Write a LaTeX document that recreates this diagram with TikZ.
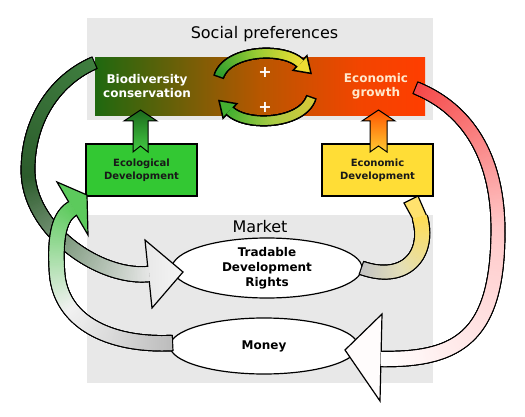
\documentclass[tikz,border=0pt]{standalone}
\usepackage{fontspec}
\setmainfont{DejaVu Sans}
\usetikzlibrary{shapes.geometric,decorations.markings}
\definecolor{panel}{HTML}{E8E8E8}
\definecolor{ecogreen}{HTML}{33C833}
\definecolor{ecoyellow}{HTML}{FFDD36}
\definecolor{growthtxt}{HTML}{FFE8CC}
\definecolor{upgT}{HTML}{1C6A1C}
\definecolor{upgB}{HTML}{44CC44}
\definecolor{upoT}{HTML}{FF5500}
\definecolor{upoB}{HTML}{FFCC33}
\definecolor{aA}{HTML}{3F7E3F}
\definecolor{aB}{HTML}{2C5C2C}
\definecolor{aC}{HTML}{E8E8E8}
\definecolor{bA}{HTML}{BDBDBD}
\definecolor{bB}{HTML}{F2F2F2}
\definecolor{bC}{HTML}{5CCA5C}
\definecolor{cA}{HTML}{C4C4C4}
\definecolor{cB}{HTML}{E4DFB8}
\definecolor{cC}{HTML}{FFDD55}
\definecolor{dA}{HTML}{F54848}
\definecolor{dB}{HTML}{FFC8C8}
\definecolor{dC}{HTML}{FFFFFF}
\definecolor{tA}{HTML}{2E9E2E}
\definecolor{tB}{HTML}{99CC33}
\definecolor{tC}{HTML}{EEDD33}
\definecolor{sA}{HTML}{D8C838}
\definecolor{sB}{HTML}{AACC44}
\definecolor{sC}{HTML}{44B030}
\pgfdeclarehorizontalshading{bioeco}{100bp}{rgb(0bp)=(0.12,0.41,0.06); rgb(25bp)=(0.12,0.41,0.06); rgb(50bp)=(0.72,0.34,0.0); rgb(65bp)=(0.95,0.27,0.0); rgb(75bp)=(1,0.24,0); rgb(100bp)=(1,0.24,0)}
\newcommand\gbo{1.2}
% black outline pass: #1 path, #2 start width, #3 end width
\newcommand\gbandout[3]{%
 \path[decorate,decoration={markings,mark=between positions 0 and 1 step 0.7pt with {%
   \pgfmathsetmacro\gbf{min(1,\pgfkeysvalueof{/pgf/decoration/mark info/distance from start}/\pgfdecoratedpathlength)}%
   \pgfmathsetmacro\gbh{(#2+(#3-#2)*\gbf)/2+\gbo}%
   \fill[black] (-\gbo pt,-\gbh pt) rectangle (1.3pt,\gbh pt);}}] #1;}
% colour pass: #1 path, #2 #3 #4 colours, #5 middle stop, #6 #7 widths
\newcommand\gbandfill[7]{%
 \path[decorate,decoration={markings,mark=between positions 0 and 1 step 0.7pt with {%
   \pgfmathsetmacro\gbf{min(1,\pgfkeysvalueof{/pgf/decoration/mark info/distance from start}/\pgfdecoratedpathlength)}%
   \pgfmathsetmacro\gbh{(#6+(#7-#6)*\gbf)/2}%
   \pgfmathtruncatemacro\gba{min(100,100*\gbf/#5)}%
   \pgfmathtruncatemacro\gbb{min(100,max(0,100*(\gbf-#5)/(1-#5)))}%
   \colorlet{gbA}{#3!\gba!#2}\colorlet{gbB}{#4!\gbb!gbA}%
   \fill[gbB] (0pt,-\gbh pt) rectangle (1.4pt,\gbh pt);}}] #1;}
\tikzset{
  btext/.style={font=\fontsize{12}{14.5}\selectfont\bfseries, align=center, inner sep=0},
  devbox/.style={draw=black, line width=1.2pt, inner sep=0, align=center, minimum width=111pt, minimum height=52pt, font=\fontsize{10}{13}\selectfont\bfseries, text=black!90},
  ell/.style={ellipse, draw=black, line width=1.2pt, fill=white, inner sep=0, align=center, font=\fontsize{12}{15}\selectfont\bfseries},
  headline/.style={draw=black, line width=1.2pt, line join=miter}
}
\begin{document}
\begin{tikzpicture}[x=1pt,y=-1pt]
\useasboundingbox (0,0) rectangle (525,417);
\fill[white] (0,0) rectangle (525,417);
% panels
\fill[panel] (87,18) rectangle (433,120);
\fill[panel] (87,215) rectangle (433,383);
\node[font=\fontsize{16}{19}\selectfont, inner sep=0] (soc) at (264.5,34) {Social preferences};
\node[font=\fontsize{16}{19}\selectfont, inner sep=0] (mkt) at (260,226.5) {Market};
% preference bar
\node[shading=bioeco, shade, minimum width=330pt, minimum height=58pt, inner sep=0] (pref) at (260,87) {};
\node[btext, text=white] (bio) at (147,86) {Biodiversity\\conservation};
\node[btext, text=growthtxt] (gro) at (376,86) {Economic\\growth};
% circular arrows
\renewcommand\gbo{1.5}
\def\pT{(219,76) .. controls (228,50) and (283,47) .. (300,63)}
\def\pS{(311,98) .. controls (302,124) and (247,127) .. (230,111)}
\gbandout{\pT}{8}{8}
\filldraw[headline, line width=1.5pt, fill=tC] (293.1,70.3) -- (311,73.4) -- (306.9,55.7) -- cycle;
\gbandfill{\pT}{tA}{tB}{tC}{0.5}{8}{8}
\gbandout{\pS}{8}{8}
\filldraw[headline, line width=1.5pt, fill=sC] (236.9,103.7) -- (219,100.6) -- (223.1,118.3) -- cycle;
\gbandfill{\pS}{sA}{sB}{sC}{0.5}{8}{8}
\node[text=white, font=\fontsize{16}{16}\selectfont\bfseries, inner sep=0] (plus1) at (265,72) {+};
\node[text=white, font=\fontsize{16}{16}\selectfont\bfseries, inner sep=0] (plus2) at (265,107) {+};
\renewcommand\gbo{1.2}
% development boxes
\node[devbox, fill=ecogreen] (ecol) at (141.5,170) {Ecological\\Development};
\node[devbox, fill=ecoyellow] (econ) at (377.5,170) {Economic\\Development};
% block arrows up
\shadedraw[top color=upgT, bottom color=upgB, draw=black, line width=1pt, line join=miter]
  (140.5,110) -- (157,121) -- (148,121) -- (148,152) -- (140.5,146) -- (133,152) -- (133,121) -- (124,121) -- cycle;
\shadedraw[top color=upoT, bottom color=upoB, draw=black, line width=1pt, line join=miter]
  (378.5,110) -- (395,121) -- (387,121) -- (387,152) -- (378.5,146) -- (370,152) -- (370,121) -- (362,121) -- cycle;
% market ellipses
\node[ell, minimum width=190pt, minimum height=60pt] (tdr) at (267,268) {Tradable\\Development\\Rights};
\node[ell, minimum width=188pt, minimum height=56pt] (money) at (264,346) {Money};
% arrow A: biodiversity -> tradable rights
\def\pA{(94,63) .. controls (55,80) and (28,120) .. (28,170) .. controls (28,230) and (100,279) .. (148.5,274)}
\gbandout{\pA}{11}{14}
\shadedraw[headline, left color=aC, right color=white!96!black] (145,240) -- (183,272) -- (152,308) -- cycle;
\gbandfill{\pA}{aA}{aB}{aC}{0.45}{11}{14}
% arrow B: money -> ecological development
\def\pB{(172,343) .. controls (110,346) and (60,322) .. (57,272) .. controls (55,240) and (58,217) .. (72.5,208.5)}
\gbandout{\pB}{14}{14}
\filldraw[headline, fill=bC] (57,182) -- (87,195) -- (88,235) -- cycle;
\gbandfill{\pB}{bA}{bB}{bC}{0.5}{14}{14}
% arrow C: tradable rights -> economic development
\def\pC{(362,268) .. controls (405,283) and (430,255) .. (420,218)}
\gbandout{\pC}{12}{14}
\filldraw[headline, fill=cC!85!white] (413.2,219.8) -- (404,203) -- (418,196) -- (426.8,216.2) -- cycle;
\gbandfill{\pC}{cA}{cB}{cC}{0.4}{12}{14}
% arrow D: economic growth -> money
\def\pD{(416,88) .. controls (470,110) and (498,160) .. (498,230) .. controls (498,335) and (460,360) .. (382,359)}
\gbandout{\pD}{11}{14}
\filldraw[headline, fill=white!96!pink] (382,314) -- (345,350) -- (380,401) -- cycle;
\gbandfill{\pD}{dA}{dB}{dC}{0.45}{11}{14}
\end{tikzpicture}
\end{document}
